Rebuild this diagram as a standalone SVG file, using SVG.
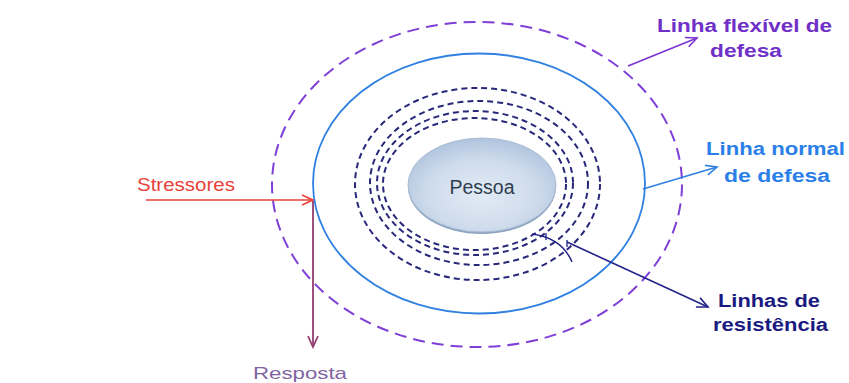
<svg xmlns="http://www.w3.org/2000/svg" width="849" height="383" viewBox="0 0 849 383">
<style>
.lbl{font-family:"Liberation Sans",Arial,sans-serif;}
.b{font-weight:bold;font-size:18px;}
.ring{fill:none;stroke:#27287a;stroke-width:2;stroke-dasharray:6 4;}
</style>
<defs>
<radialGradient id="pg" cx="0.5" cy="0.6" r="0.6">
<stop offset="0" stop-color="#e2ebf6"/>
<stop offset="0.6" stop-color="#cfdcec"/>
<stop offset="1" stop-color="#b0c4de"/>
</radialGradient>
<marker id="aRed" markerUnits="userSpaceOnUse" markerWidth="14" markerHeight="14" refX="12" refY="6" orient="auto" viewBox="0 0 14 12"><path d="M1,1 L12,6 L1,11" fill="none" stroke="#e8403a" stroke-width="1.6"/></marker>
<marker id="aMar" markerUnits="userSpaceOnUse" markerWidth="14" markerHeight="14" refX="12" refY="6" orient="auto" viewBox="0 0 14 12"><path d="M1,1 L12,6 L1,11" fill="none" stroke="#953e6f" stroke-width="1.8"/></marker>
<marker id="aPur" markerUnits="userSpaceOnUse" markerWidth="14" markerHeight="14" refX="12" refY="6" orient="auto" viewBox="0 0 14 12"><path d="M1,1 L12,6 L1,11" fill="none" stroke="#7a34d2" stroke-width="1.6"/></marker>
<marker id="aBlu" markerUnits="userSpaceOnUse" markerWidth="14" markerHeight="14" refX="12" refY="6" orient="auto" viewBox="0 0 14 12"><path d="M1,1 L12,6 L1,11" fill="none" stroke="#2f80e0" stroke-width="1.6"/></marker>
<marker id="aNav" markerUnits="userSpaceOnUse" markerWidth="14" markerHeight="14" refX="12" refY="6" orient="auto" viewBox="0 0 14 12"><path d="M1,1 L12,6 L1,11" fill="none" stroke="#22228a" stroke-width="1.6"/></marker>
</defs>

<g id="flexivel">
<ellipse cx="477" cy="184.5" rx="205" ry="162.5" fill="none" stroke="#7f3fd6" stroke-width="2" stroke-dasharray="12 7"/>
</g>
<g id="normal">
<ellipse cx="479" cy="183.5" rx="166" ry="130" fill="none" stroke="#2f80e0" stroke-width="1.8"/>
</g>
<g id="resistencia">
<ellipse class="ring" cx="477.5" cy="184" rx="122.5" ry="96"/>
<ellipse class="ring" cx="479" cy="183" rx="109" ry="82"/>
<ellipse class="ring" cx="475" cy="183" rx="98" ry="72"/>
<ellipse class="ring" cx="474.5" cy="184" rx="91.5" ry="66"/>
</g>
<g id="pessoa">
<ellipse cx="482" cy="187" rx="74" ry="47" fill="#8ea4c0"/>
<ellipse cx="482" cy="185" rx="74" ry="47" fill="url(#pg)" stroke="#a9bcd6" stroke-width="1"/>
<text class="lbl" x="482" y="194" font-size="19.5" fill="#2e3e4e" text-anchor="middle">Pessoa</text>
</g>

<g id="connectors">
<line x1="146" y1="200" x2="313" y2="200" stroke="#e8403a" stroke-width="1.6" marker-end="url(#aRed)"/>
<line x1="313" y1="201" x2="313" y2="347" stroke="#953e6f" stroke-width="1.8" marker-end="url(#aMar)"/>
<line x1="628" y1="66" x2="697" y2="38" stroke="#7a34d2" stroke-width="1.6" marker-end="url(#aPur)"/>
<line x1="643" y1="189" x2="717" y2="167" stroke="#2f80e0" stroke-width="1.6" marker-end="url(#aBlu)"/>
<path d="M532,234 Q562,238 572,262" fill="none" stroke="#22228a" stroke-width="1.5"/>
<path d="M546,233 L546,240 M567,240 L567,247" fill="none" stroke="#22228a" stroke-width="1.3"/>
<line x1="567" y1="242" x2="708" y2="307" stroke="#22228a" stroke-width="1.6" marker-end="url(#aNav)"/>
</g>

<g id="labels">
<text class="lbl" x="137" y="191" font-size="18" fill="#e8403a" textLength="98" lengthAdjust="spacingAndGlyphs">Stressores</text>
<text class="lbl" x="253" y="379" font-size="17" fill="#8064a2" textLength="94" lengthAdjust="spacingAndGlyphs">Resposta</text>
<text class="lbl b" x="657" y="32" fill="#7030c8" textLength="175" lengthAdjust="spacingAndGlyphs">Linha flexível de</text>
<text class="lbl b" x="710" y="57" fill="#7030c8" textLength="72" lengthAdjust="spacingAndGlyphs">defesa</text>
<text class="lbl b" x="706" y="155" fill="#2a80e8" textLength="139" lengthAdjust="spacingAndGlyphs">Linha normal</text>
<text class="lbl b" x="724" y="182" fill="#2a80e8" textLength="106" lengthAdjust="spacingAndGlyphs">de defesa</text>
<text class="lbl b" x="718" y="307" fill="#1a1a80" textLength="102" lengthAdjust="spacingAndGlyphs">Linhas de</text>
<text class="lbl b" x="713" y="331" fill="#1a1a80" textLength="115" lengthAdjust="spacingAndGlyphs">resistência</text>
</g>
</svg>
